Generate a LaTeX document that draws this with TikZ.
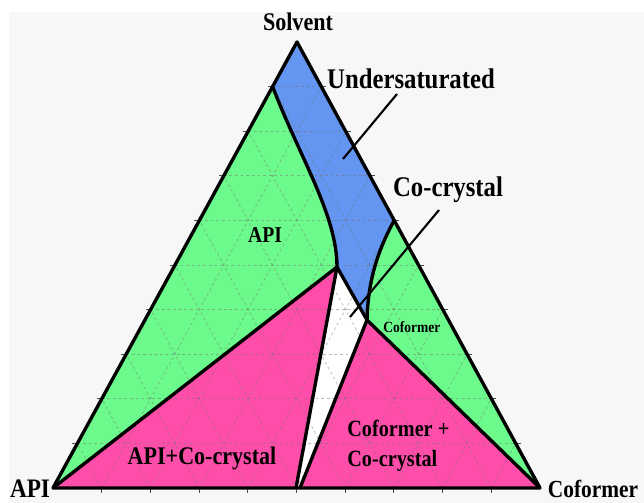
\documentclass[tikz,border=0pt]{standalone}
\usepackage{graphicx}
\usepackage{fontspec}
\setmainfont{Liberation Serif}
\usetikzlibrary{calc}

\definecolor{apigreen}{RGB}{108,250,140}
\definecolor{solblue}{RGB}{100,149,240}
\definecolor{mixpink}{RGB}{255,77,170}
\definecolor{bggray}{RGB}{247,247,247}

% taller bold serif, as in the printed figure
\newcommand{\tall}[1]{\scalebox{1}[1.15]{#1}}

\begin{document}
\begin{tikzpicture}[
    x=0.025cm, y=-0.025cm,
    font=\bfseries,
    border/.style={
      line width=2.4pt,
      line join=round
    },
    gridline/.style={
      black!55,
      opacity=0.5,
      line width=0.5pt,
      dash pattern=on 2pt off 2pt
    },
    tickmark/.style={
      line width=0.6pt,
      black!70
    },
    pointer/.style={
      line width=1.5pt
    },
    lbl/.style={
      inner sep=0pt,
      anchor=base
    }
  ]

    % Page and background
    \useasboundingbox (0,0) rectangle (644,503);
    \fill[bggray] (9,12) rectangle (644,503);

    % Corners of the diagram
    \coordinate (api) at (53,488);
    \coordinate (cof) at (540,488);
    \coordinate (solv) at (297,42);

    % Points on the phase boundaries
    \coordinate (apisat) at ($(api)!0.9!(solv)$);
    \coordinate (cofsat) at ($(cof)!0.6!(solv)$);
    \coordinate (eut1) at (337,267);
    \coordinate (eut2) at (367,320);
    \coordinate (cc1) at (296,488);
    \coordinate (cc2) at (300,488);

    % Phase regions
    \fill[solblue] (solv) -- (apisat)
      .. controls (300,158) and (337,215) .. (eut1)
      -- (eut2) .. controls (368,280) and (378,250) .. (cofsat) -- cycle;
    \fill[apigreen] (api) -- (apisat)
      .. controls (300,158) and (337,215) .. (eut1) -- cycle;
    \fill[apigreen] (cof) -- (cofsat)
      .. controls (378,250) and (368,280) .. (eut2) -- cycle;
    \fill[mixpink] (api) -- (eut1) -- (cc1) -- cycle;
    \fill[mixpink] (cc2) -- (eut2) -- (cof) -- cycle;
    \fill[white] (eut1) -- (eut2) -- (cc2) -- (cc1) -- cycle;

    % Composition grid
    \begin{scope}
      \clip (api) -- (cof) -- (solv) -- cycle;
      \foreach \i in {1,...,9} {
        \draw[gridline] ($(api)!\i/10!(solv)$) -- ($(cof)!\i/10!(solv)$);
        \draw[gridline] ($(api)!\i/10!(cof)$) -- ($(solv)!\i/10!(cof)$);
        \draw[gridline] ($(api)!\i/10!(cof)$) -- ($(api)!\i/10!(solv)$);
      }
    \end{scope}
    \foreach \i in {1,...,9} {
      \draw[tickmark] ($(api)!\i/10!(cof)$) -- +(0,5);
      \draw[tickmark] ($(api)!\i/10!(solv)$) -- +(-5,0);
      \draw[tickmark] ($(cof)!\i/10!(solv)$) -- +(5,0);
    }

    % Phase boundaries
    \draw[border] (apisat) .. controls (300,158) and (337,215) .. (eut1);
    \draw[border] (cofsat) .. controls (378,250) and (368,280) .. (eut2);
    \draw[border] (api) -- (eut1) -- (cc1);
    \draw[border] (eut1) -- (eut2) -- (cc2);
    \draw[border] (eut2) -- (cof);
    \draw[border] (api) -- (cof) -- (solv) -- cycle;

    % Corner labels
    \node[lbl, font=\bfseries\fontsize{15.7}{18}\selectfont] (solvlabel) at (298,31) {\tall{Solvent}};
    \node[lbl, font=\bfseries\fontsize{16.5}{19}\selectfont] (apilabel) at (30,497) {\tall{API}};
    \node[lbl, font=\bfseries\fontsize{15.2}{18}\selectfont] (coflabel) at (593,497) {\tall{Coformer}};

    % Region labels
    \node[lbl, font=\bfseries\fontsize{17.6}{20}\selectfont] (undersat) at (411,89) {\tall{Undersaturated}};
    \node[lbl, font=\bfseries\fontsize{17.6}{20}\selectfont] (cocrystal) at (448,197) {\tall{Co-crystal}};
    \node[lbl, font=\bfseries\fontsize{14}{16}\selectfont] (apiregion) at (265,243) {\tall{API}};
    \node[lbl, anchor=base west, font=\bfseries\fontsize{9.6}{11}\selectfont] (cofregion) at (383,333) {\tall{Coformer}};
    \node[lbl, font=\bfseries\fontsize{15.7}{18}\selectfont] (apimix) at (202,465) {\tall{API+Co-crystal}};
    \node[lbl, anchor=base west, font=\bfseries\fontsize{14.4}{17}\selectfont] (cofmix1) at (347,437) {\tall{Coformer +}};
    \node[lbl, anchor=base west, font=\bfseries\fontsize{14.4}{17}\selectfont] (cofmix2) at (347,466) {\tall{Co-crystal}};

    % Pointers
    \coordinate (undersattip) at (343,159);
    \coordinate (undersatend) at (397,94);
    \coordinate (cocrystaltip) at (350,317);
    \coordinate (cocrystalend) at (439,210);
    \draw[pointer] (undersatend) -- (undersattip);
    \draw[pointer] (cocrystalend) -- (cocrystaltip);

  \end{tikzpicture}
\end{document}
